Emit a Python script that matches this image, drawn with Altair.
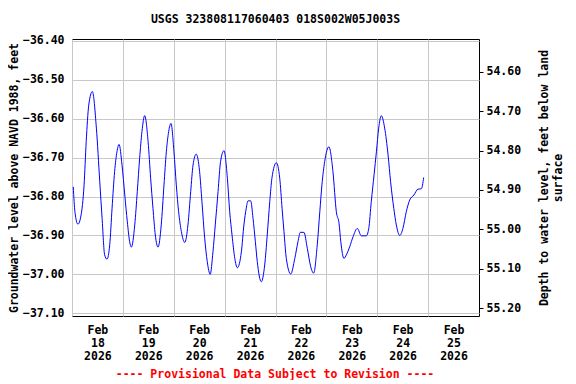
import altair as alt
import pandas as pd

TITLE = "USGS 323808117060403 018S002W05J003S"
LEFT_TITLE = "Groundwater level above NAVD 1988, feet"
RIGHT_TITLE = ["Depth to water level, feet below land", "surface"]
FOOTER = "---- Provisional Data Subject to Revision ----"

# hours after 2026-02-18 00:00 (local)
hours = [0.6, 1.4, 2.8, 4.2, 5.7, 6.7, 7.9, 9.6, 11.5, 13.1, 14.2, 15.4, 16.5,
         17.8, 18.9, 20.1, 21.2, 22.2, 23.6, 24.9, 26.1, 27.2, 28.0,
         29.6, 30.8, 31.9, 33.0, 34.3, 35.9, 37.1, 38.2, 39.3, 40.6,
         42.1, 43.4, 44.5, 45.6, 46.7, 48.1, 49.2, 50.3, 51.6, 53.2,
         54.7, 56.0, 57.1, 58.6, 60.2, 61.3, 62.6, 63.8, 65.2,
         66.5, 67.6, 68.9, 70.1, 71.7, 73.3, 74.4, 75.5, 76.8, 78.0,
         79.9, 81.1, 82.2, 83.0, 84.3, 85.4, 86.5, 87.4, 89.3,
         90.9, 92.1, 93.3, 94.3, 96.4, 98.0, 99.1, 100.0, 101.1, 103.2,
         105.1, 106.6, 107.7, 109.4, 111.0, 112.6, 114.0,
         115.7, 116.9, 117.9, 119.2, 121.2, 123.1, 124.7, 126.0, 126.8, 128.3,
         129.4, 131.0, 132.6, 134.6, 136.5, 138.8,
         140.0, 141.2, 142.5, 143.6, 144.7, 145.9, 147.5, 149.1, 150.3, 151.8, 153.0, 154.6,
         156.1, 157.7, 159.3, 161.3, 163.2, 164.8, 165.9]

levels = [-36.775, -36.84, -36.871, -36.85, -36.77, -36.659, -36.565, -36.530, -36.624, -36.762, -36.856, -36.950, -36.961,
          -36.924, -36.830, -36.736, -36.685, -36.666, -36.719, -36.796, -36.865, -36.916, -36.930,
          -36.873, -36.787, -36.702, -36.633, -36.592, -36.659, -36.753, -36.830, -36.899, -36.930,
          -36.873, -36.770, -36.685, -36.633, -36.612, -36.685, -36.770, -36.839, -36.890, -36.918,
          -36.873, -36.787, -36.719, -36.691, -36.736, -36.813, -36.907, -36.967, -37.000,
          -36.942, -36.873, -36.787, -36.710, -36.682, -36.753, -36.839, -36.899, -36.959, -36.983,
          -36.942, -36.873, -36.830, -36.811, -36.811, -36.856, -36.916, -36.967, -37.019,
          -36.976, -36.899, -36.813, -36.753, -36.713, -36.753, -36.830, -36.890, -36.959, -36.999,
          -36.959, -36.916, -36.892, -36.892, -36.933, -36.980, -36.997,
          -36.924, -36.839, -36.770, -36.710, -36.672, -36.736, -36.839, -36.870, -36.916, -36.959,
          -36.950, -36.929, -36.903, -36.882, -36.901, -36.901,
          -36.882, -36.813, -36.744, -36.685, -36.624, -36.592, -36.624, -36.693, -36.762, -36.830, -36.873, -36.900,
          -36.882, -36.839, -36.809, -36.796, -36.781, -36.780, -36.751]

DEPTH_OFFSET = 18.12  # depth below land surface = offset - level

left_ticks = [-36.4, -36.5, -36.6, -36.7, -36.8, -36.9, -37.0, -37.1]
right_ticks = [54.6, 54.7, 54.8, 54.9, 55.0, 55.1, 55.2]
label_days = [18, 19, 20, 21, 22, 23, 24, 25]

base = pd.Timestamp("2026-02-18 00:00")
df = pd.DataFrame({
    "time": [(base + pd.Timedelta(hours=h)).strftime("%Y-%m-%dT%H:%M") for h in hours],
    "level": levels,
})
df["depth"] = DEPTH_OFFSET - df["level"]

FONT = "DejaVu Sans Mono"
FS = 11.5

x_enc = alt.X(
    "time:T",
    scale=alt.Scale(domain=[alt.DateTime(year=2026, month=2, date=18),
                            alt.DateTime(year=2026, month=2, date=26)]),
    axis=alt.Axis(
        title=None,
        values=[alt.DateTime(year=2026, month=2, date=d) for d in label_days],
        labelExpr="[timeFormat(datum.value, '%b'), timeFormat(datum.value, '%d'), timeFormat(datum.value, '%Y')]",
        labelOffset=25.4,
        labelPadding=8,
        labelLineHeight=13,
        labelOverlap=False,
        labelFlush=False,
        labelBound=False,
        ticks=False,
        domain=False,
        grid=True,
        gridColor="#c8c8c8",
        orient="bottom",
    ),
)

line = alt.Chart(df).mark_line(color="#0000ff", strokeWidth=1, interpolate="monotone").encode(
    x=x_enc,
    y=alt.Y(
        "level:Q",
        scale=alt.Scale(domain=[-37.107, -36.395], nice=False, zero=False),
        axis=alt.Axis(
            title=LEFT_TITLE,
            values=left_ticks,
            format=".2f",
            orient="left",
            ticks=False,
            domain=False,
            grid=True,
            gridColor="#c8c8c8",
            labelPadding=8,
            titlePadding=3,
        ),
    ),
)

depth_line = alt.Chart(df).mark_line(opacity=0).encode(
    x=alt.X("time:T"),
    y=alt.Y(
        "depth:Q",
        scale=alt.Scale(domain=[55.220, 54.517], nice=False, zero=False),
        axis=alt.Axis(
            title=RIGHT_TITLE,
            values=right_ticks,
            format=".2f",
            orient="right",
            ticks=True,
            tickSize=4,
            tickColor="black",
            domain=False,
            grid=False,
            labelPadding=3,
            titlePadding=15,
            titleAngle=270,
            titleLineHeight=14,
        ),
    ),
)

footer = alt.Chart(pd.DataFrame({"t": [FOOTER]})).mark_text(
    color="red", font=FONT, fontSize=FS, fontWeight="bold", baseline="middle", align="center"
).encode(
    text="t:N",
    x=alt.value(203),
    y=alt.value(336),
)

chart = alt.layer(line, depth_line, footer).resolve_scale(y="independent").properties(
    width=407,
    height=277,
    title=alt.TitleParams(TITLE, font=FONT, fontSize=FS, fontWeight="bold", anchor="middle", offset=9),
    autosize=alt.AutoSizeParams(type="none"),
    padding={"left": 64, "top": 31, "right": 89, "bottom": 64},
).configure_view(
    stroke="black", strokeWidth=1
).configure_axis(
    labelFont=FONT, labelFontSize=FS, labelFontWeight="bold", labelColor="black",
    titleFont=FONT, titleFontSize=FS, titleFontWeight="bold", titleColor="black",
)

chart.save("out.html", embed_options={"renderer": "svg", "actions": False})
